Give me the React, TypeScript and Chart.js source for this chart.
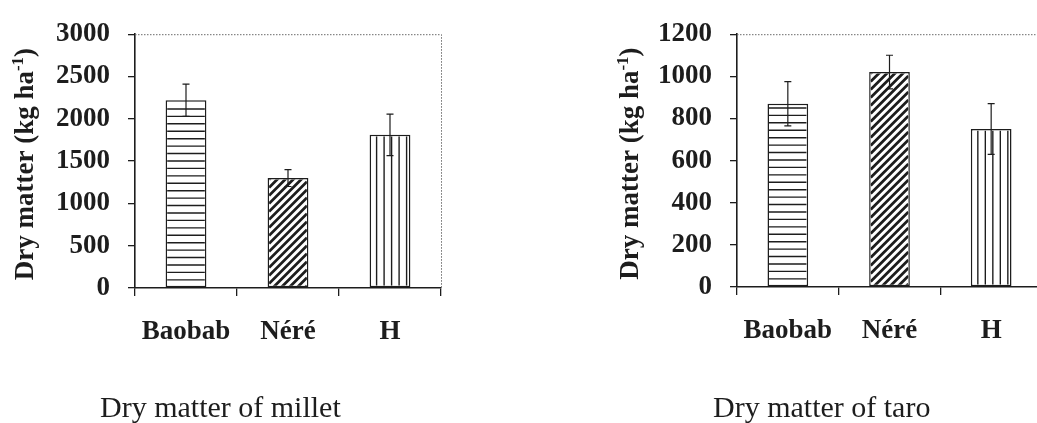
import React, { useEffect, useRef } from "react";
import { Chart, registerables } from "chart.js";

Chart.register(...registerables);

// Treatments and their hatch fills
const categories = ["Baobab", "Néré", "H"];
const hatchStyles = ["horizontal", "diagonal", "vertical"];

// Millet dry matter (kg/ha) with error half-widths
const milletValues = [2220, 1300, 1810];
const milletErrors = [190, 100, 245];
const milletTicks = [0, 500, 1000, 1500, 2000, 2500, 3000];

// Taro dry matter (kg/ha) with error half-widths
const taroValues = [870, 1020, 750];
const taroErrors = [105, 80, 120];
const taroTicks = [0, 200, 400, 600, 800, 1000, 1200];

const INK = "#1d1d1d";
const SERIF = "'Liberation Serif', 'Times New Roman', Times, serif";
const CANVAS_H = 423;
const BAR_BORDER = 1.5;

type Area = { left: number; top: number; right: number; bottom: number };

type PanelProps = {
  left: number;
  width: number;
  area: Area;
  values: number[];
  errors: number[];
  ticks: number[];
  titleX: number;
  caption: string;
  captionX: number;
};

function drawHatch(ctx: CanvasRenderingContext2D, kind: string, l: number, t: number, r: number, b: number) {
  ctx.save();
  ctx.beginPath();
  ctx.rect(l, t, r - l, b - t);
  ctx.clip();
  ctx.strokeStyle = INK;
  ctx.beginPath();
  if (kind === "horizontal") {
    ctx.lineWidth = 1.4;
    for (let y = b - 6; y > t + 2; y -= 7.43) {
      ctx.moveTo(l, y);
      ctx.lineTo(r, y);
    }
  } else if (kind === "vertical") {
    ctx.lineWidth = 1.4;
    for (let x = l + 5.5; x < r - 2; x += 7.5) {
      ctx.moveTo(x, t);
      ctx.lineTo(x, b);
    }
  } else {
    ctx.lineWidth = 2.8;
    const w = r - l;
    for (let c = t - w; c < b + w; c += 8) {
      ctx.moveTo(l, c + w);
      ctx.lineTo(r, c);
    }
  }
  ctx.stroke();
  ctx.restore();
}

function Panel(props: PanelProps) {
  const ref = useRef<HTMLCanvasElement | null>(null);

  useEffect(() => {
    const canvas = ref.current;
    if (!canvas) return;
    const { area, values, errors, ticks, titleX, caption, captionX, width } = props;

    const decorations = {
      id: "decorations",
      beforeDatasetsDraw(chart: any) {
        const ctx: CanvasRenderingContext2D = chart.ctx;
        const a = chart.chartArea;
        // dotted frame on the top and right of the plot area
        ctx.save();
        ctx.strokeStyle = "#6a6a6a";
        ctx.lineWidth = 1;
        ctx.setLineDash([1.5, 1.5]);
        ctx.beginPath();
        ctx.moveTo(a.left, a.top + 0.5);
        ctx.lineTo(a.right + 0.5, a.top + 0.5);
        ctx.lineTo(a.right + 0.5, a.bottom);
        ctx.stroke();
        ctx.restore();
      },
      afterDatasetsDraw(chart: any) {
        const ctx: CanvasRenderingContext2D = chart.ctx;
        const meta = chart.getDatasetMeta(0);
        const yScale = chart.scales.y;
        meta.data.forEach((bar: any, i: number) => {
          const p = bar.getProps(["x", "y", "base", "width"], true);
          drawHatch(
            ctx,
            hatchStyles[i],
            p.x - p.width / 2 + BAR_BORDER,
            p.y + BAR_BORDER,
            p.x + p.width / 2 - BAR_BORDER,
            p.base - BAR_BORDER
          );
          // error bar
          const hi = yScale.getPixelForValue(values[i] + errors[i]);
          const lo = yScale.getPixelForValue(values[i] - errors[i]);
          ctx.save();
          ctx.strokeStyle = INK;
          ctx.lineWidth = 1.2;
          ctx.beginPath();
          ctx.moveTo(p.x, hi);
          ctx.lineTo(p.x, lo);
          ctx.moveTo(p.x - 3.5, hi);
          ctx.lineTo(p.x + 3.5, hi);
          ctx.moveTo(p.x - 3.5, lo);
          ctx.lineTo(p.x + 3.5, lo);
          ctx.stroke();
          ctx.restore();
        });
      },
      afterDraw(chart: any) {
        const ctx: CanvasRenderingContext2D = chart.ctx;
        const a = chart.chartArea;
        const xScale = chart.scales.x;
        ctx.save();
        ctx.fillStyle = INK;
        // category labels
        ctx.font = `bold 27px ${SERIF}`;
        ctx.textAlign = "center";
        ctx.textBaseline = "alphabetic";
        categories.forEach((c, i) => {
          ctx.fillText(c, xScale.getPixelForValue(i), a.bottom + 51);
        });
        // caption
        ctx.font = `30px ${SERIF}`;
        ctx.textAlign = "left";
        ctx.fillText(caption, captionX, 417);
        // rotated axis title with superscript
        const cy = (a.top + a.bottom) / 2 + 3;
        ctx.translate(titleX, cy);
        ctx.rotate(-Math.PI / 2);
        const big = `bold 27px ${SERIF}`;
        const small = `bold 17px ${SERIF}`;
        const parts: [string, string, number][] = [
          ["Dry matter (kg ha", big, 0],
          ["-1", small, -10],
          [")", big, 0],
        ];
        let total = 0;
        const widths = parts.map(([t, f]) => {
          ctx.font = f;
          const w = ctx.measureText(t).width;
          total += w;
          return w;
        });
        let x = -total / 2;
        parts.forEach(([t, f, dy], k) => {
          ctx.font = f;
          ctx.fillText(t, x, dy);
          x += widths[k];
        });
        ctx.restore();
      },
    };

    const chart = new Chart(canvas, {
      type: "bar",
      data: {
        labels: categories,
        datasets: [
          {
            data: values,
            backgroundColor: "#ffffff",
            borderColor: INK,
            borderWidth: BAR_BORDER,
            borderSkipped: false,
            barPercentage: 0.4,
            categoryPercentage: 1,
          },
        ],
      },
      options: {
        responsive: false,
        animation: false,
        devicePixelRatio: 1,
        layout: {
          padding: {
            left: 0,
            top: area.top,
            right: width - area.right,
            bottom: CANVAS_H - area.bottom - 30,
          },
        },
        plugins: {
          legend: { display: false },
          tooltip: { enabled: false },
        },
        scales: {
          x: {
            type: "category",
            offset: true,
            grid: {
              display: true,
              offset: true,
              drawOnChartArea: false,
              drawTicks: true,
              tickLength: 8,
              color: INK,
              lineWidth: 1.3,
            },
            border: { display: true, color: INK, width: 1.6 },
            ticks: { display: false },
            afterFit: (s: any) => {
              s.height = 30;
            },
          },
          y: {
            min: ticks[0],
            max: ticks[ticks.length - 1],
            ticks: {
              stepSize: ticks[1] - ticks[0],
              color: INK,
              padding: 18,
              font: { family: SERIF, size: 27, weight: "bold" },
              callback: (v: any) => String(v),
            },
            grid: {
              drawOnChartArea: false,
              tickLength: 7,
              color: INK,
              lineWidth: 1.3,
            },
            border: { display: true, color: INK, width: 1.6 },
            afterFit: (s: any) => {
              s.width = area.left;
            },
          },
        },
      },
      plugins: [decorations],
    } as any);

    return () => chart.destroy();
  }, []);

  return (
    <canvas
      ref={ref}
      width={props.width}
      height={CANVAS_H}
      style={{ position: "absolute", left: props.left, top: 0, width: props.width, height: CANVAS_H }}
    />
  );
}

export default function App() {
  return (
    <div
      style={{
        position: "fixed",
        left: 0,
        top: 0,
        width: 1037,
        height: CANVAS_H,
        overflow: "hidden",
        background: "#ffffff",
      }}
    >
      <Panel
        left={0}
        width={470}
        area={{ left: 135, top: 23, right: 441, bottom: 288 }}
        values={milletValues}
        errors={milletErrors}
        ticks={milletTicks}
        titleX={33}
        caption="Dry matter of millet"
        captionX={100}
      />
      <Panel
        left={560}
        width={500}
        area={{ left: 177, top: 24, right: 482, bottom: 287 }}
        values={taroValues}
        errors={taroErrors}
        ticks={taroTicks}
        titleX={78}
        caption="Dry matter of taro"
        captionX={153}
      />
    </div>
  );
}
